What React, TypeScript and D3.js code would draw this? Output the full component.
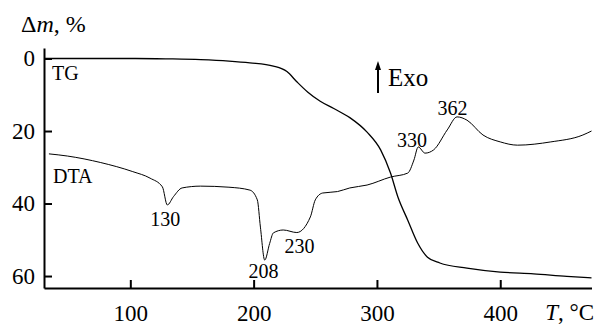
import React, { useEffect, useRef } from 'react';
import * as d3 from 'd3';

// TG curve: temperature (°C) and mass loss (%)
const tgTemp = [30, 60, 104, 130, 157, 180, 197, 216, 227, 235, 244, 254, 265, 278, 292, 303, 311, 317, 325, 333, 341, 351, 373, 400, 427, 454, 474];
const tgLoss = [0, 0, 0, 0.1, 0.3, 0.7, 1.2, 2.1, 3.6, 6.4, 9.3, 11.8, 13.8, 16.3, 20.3, 25.2, 31.6, 38.2, 44.6, 50.9, 54.8, 56.4, 57.8, 58.9, 59.4, 60.1, 60.5];

// DTA curve, drawn on the same vertical scale
const dtaTemp = [34, 49, 76, 102, 116, 126, 130, 135, 142, 157, 180, 197, 203, 205.5, 209, 213, 216, 224, 235, 246, 250, 256, 268, 278, 292, 311, 325, 330, 333.5, 339, 346, 357, 365, 373, 386, 400, 414, 441, 467, 474];
const dtaSignal = [26.3, 26.9, 28.7, 31.2, 33.0, 35.4, 40.4, 38.1, 35.7, 35.2, 35.5, 36.3, 39.0, 46.5, 55.6, 51, 48.1, 47.3, 48.0, 43.7, 39.0, 37.1, 36.7, 35.7, 34.9, 32.7, 31.6, 28.0, 24.4, 26.1, 25.2, 19.7, 16.1, 17.0, 21.1, 23.0, 23.9, 23.0, 21.1, 20.0];

const peakTemps = [130, 208, 230, 330, 362];
const xTicks = [100, 200, 300, 400];
const yTicks = [0, 20, 40, 60];

const FONT = 'Liberation Serif';

export default function App() {
  const ref = useRef<SVGSVGElement>(null);

  useEffect(() => {
    const svg = d3.select(ref.current);
    svg.selectAll('*').remove();

    const x = d3.scaleLinear().domain([30, 474]).range([44, 591.5]);
    const y = d3.scaleLinear().domain([-2.9, 63.3]).range([48, 288]);

    // axes
    const ax = svg.append('g')
      .attr('transform', 'translate(0,288)')
      .call(d3.axisBottom(x).tickValues(xTicks).tickSizeInner(-8).tickSizeOuter(0).tickPadding(17));
    const ay = svg.append('g')
      .attr('transform', 'translate(44,0)')
      .call(d3.axisLeft(y).tickValues(yTicks).tickSizeInner(-8).tickSizeOuter(0).tickPadding(9));

    [ax, ay].forEach(g => {
      g.attr('font-family', FONT).attr('font-size', 23);
      g.select('.domain').attr('stroke', '#000').attr('stroke-width', 2);
      g.selectAll('.tick line').attr('stroke', '#000').attr('stroke-width', 2);
      g.selectAll('.tick text').attr('fill', '#000');
    });

    const line = d3.line<[number, number]>()
      .x(d => x(d[0]))
      .y(d => y(d[1]))
      .curve(d3.curveMonotoneX);

    // TG
    const tg = tgTemp.map((t, i) => [t, tgLoss[i]] as [number, number]);
    svg.append('path')
      .datum(tg)
      .attr('fill', 'none')
      .attr('stroke', '#000')
      .attr('stroke-width', 1.3)
      .attr('d', line);

    // DTA
    const dta = dtaTemp.map((t, i) => [t, dtaSignal[i]] as [number, number]);
    svg.append('path')
      .datum(dta)
      .attr('fill', 'none')
      .attr('stroke', '#000')
      .attr('stroke-width', 1)
      .attr('d', line);

    // peak labels
    const nearest = (t: number) => {
      let best = 0;
      dtaTemp.forEach((v, i) => { if (Math.abs(v - t) < Math.abs(dtaTemp[best] - t)) best = i; });
      return dtaSignal[best];
    };
    const offsets: Record<number, [number, number]> = {
      130: [-2, 21],
      208: [0, 18],
      230: [9, 20],
      330: [-2, -13],
      362: [-1, -2],
    };
    const labels = svg.append('g').attr('font-family', FONT).attr('font-size', 20);
    peakTemps.forEach(p => {
      const [dx, dy] = offsets[p];
      labels.append('text')
        .attr('x', x(p) + dx)
        .attr('y', y(nearest(p)) + dy)
        .attr('text-anchor', 'middle')
        .text(String(p));
    });

    // curve names
    labels.append('text').attr('x', 52).attr('y', 80).text('TG');
    labels.append('text').attr('x', 53).attr('y', 183).text('DTA');

    // Exo arrow
    svg.append('line')
      .attr('x1', 378).attr('x2', 378).attr('y1', 93).attr('y2', 68)
      .attr('stroke', '#000').attr('stroke-width', 2);
    svg.append('path')
      .attr('d', 'M378,61 L381,70 L375,70 Z')
      .attr('fill', '#000');
    svg.append('text').attr('x', 388).attr('y', 86)
      .attr('font-family', FONT).attr('font-size', 25).text('Exo');

    // axis titles
    const yt = svg.append('text').attr('x', 21).attr('y', 32)
      .attr('font-family', FONT).attr('font-size', 24);
    yt.append('tspan').text('Δ');
    yt.append('tspan').attr('font-style', 'italic').text('m');
    yt.append('tspan').text(', %');

    const xt = svg.append('text').attr('x', 594).attr('y', 320)
      .attr('text-anchor', 'end')
      .attr('font-family', FONT).attr('font-size', 23);
    xt.append('tspan').attr('font-style', 'italic').text('T');
    xt.append('tspan').text(', °C');
  }, []);

  return (
    <svg
      ref={ref}
      width={598}
      height={326}
      style={{ position: 'absolute', left: 0, top: 0, background: '#fff' }}
    />
  );
}
